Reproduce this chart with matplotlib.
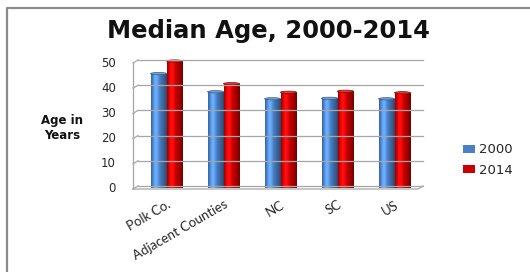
import numpy as np
import matplotlib
matplotlib.use("Agg")
import matplotlib.pyplot as plt
from matplotlib.lines import Line2D
from matplotlib.patches import Patch, Ellipse
from matplotlib.colors import to_rgb

categories = ["Polk Co.", "Adjacent Counties", "NC", "SC", "US"]
series_names = ["2000", "2014"]
age_2000 = [44.6, 37.4, 34.6, 34.8, 34.6]
age_2014 = [49.6, 40.6, 37.2, 37.6, 37.0]
yticks = [0, 10, 20, 30, 40, 50]

W, H = 530, 272
fig = plt.figure(figsize=(W / 100, H / 100), dpi=100)

# back wall in pixel coords
x0, x1 = 138, 423
y0, y1 = 186, 60
ax = fig.add_axes([x0 / W, 1 - y0 / H, (x1 - x0) / W, (y0 - y1) / H])
ax.set_xlim(-0.5, len(categories) - 0.5)
ax.set_ylim(0, 50)
for s in ax.spines.values():
    s.set_visible(False)

dx, dy = -5, 3   # offset from back wall to front edge (pixels)
grid_c = "#a6a6a6"


def fx(px):
    return px / W


def fy(py):
    return 1 - py / H


# gridlines on back wall + diagonals on side wall
for t in yticks:
    py = y0 - (y0 - y1) * t / 50
    fig.add_artist(Line2D([fx(x0), fx(x1)], [fy(py), fy(py)], color=grid_c, lw=0.9))
    fig.add_artist(Line2D([fx(x0 + dx), fx(x0)], [fy(py + dy), fy(py)], color=grid_c, lw=0.9))
    fig.text(fx(116), fy(py + dy), str(t), ha="right", va="center",
             fontsize=8.5, color="#262626")
# side wall front edge and floor
fig.add_artist(Line2D([fx(x0 + dx)] * 2, [fy(y0 + dy), fy(y1 + dy)], color=grid_c, lw=0.9))
fig.add_artist(Line2D([fx(x0 + dx), fx(x1 + dx), fx(x1)],
                      [fy(y0 + dy), fy(y0 + dy), fy(y0)], color=grid_c, lw=0.9))

ax.set_yticks([])
ax.set_xticks(range(len(categories)))
ax.set_xticklabels(categories, rotation=30, ha="right", rotation_mode="anchor",
                   fontsize=9.5, family="Lato", color="#262626")
ax.tick_params(axis="x", length=0, pad=9)


def shade(base, n=40):
    c = np.array(to_rgb(base))
    xs = np.linspace(0, 1, n)
    # light band left of centre, dark towards the edges
    f = 1.0 + 0.3 * np.exp(-((xs - 0.3) / 0.2) ** 2) - 0.45 * xs ** 3 - 0.25 * (1 - xs) ** 6
    img = np.clip(c[None, :] * f[:, None] + 0.06 * np.exp(-((xs - 0.3) / 0.15) ** 2)[:, None], 0, 1)
    return img[None, :, :]


colors = ["#4a80c4", "#cc0000"]
bw = 0.28
for i, (a, b) in enumerate(zip(age_2000, age_2014)):
    for j, (v, c) in enumerate([(a, colors[0]), (b, colors[1])]):
        left = i - bw + j * bw
        ax.imshow(shade(c), extent=(left, left + bw, -0.6, v), aspect="auto",
                  interpolation="bilinear", zorder=3, clip_on=False)
        top = np.array(to_rgb(c)) * 0.75 + 0.25
        ax.add_patch(Ellipse((left + bw / 2, v), bw, 0.9, facecolor=np.clip(top, 0, 1),
                             edgecolor=np.array(to_rgb(c)) * 0.7, lw=0.5,
                             zorder=4, clip_on=False))
ax.set_xlim(-0.5, len(categories) - 0.5)
ax.set_ylim(0, 50)

fig.text(fx(268), fy(31), "Median Age, 2000-2014", ha="center", va="center",
         fontsize=17.5, fontweight="bold", color="#111111")
fig.text(fx(62), fy(128), "Age in\nYears", ha="center", va="center",
         fontsize=8.5, fontweight="bold", color="#111111", linespacing=1.25)

handles = [Patch(facecolor=c, edgecolor="none") for c in colors]
fig.legend(handles, series_names, loc="center left", bbox_to_anchor=(fx(451), fy(160)),
           frameon=False, fontsize=9.5, handlelength=0.9, handleheight=0.55,
           handletextpad=0.3, labelspacing=0.55, labelcolor="#262626")

# outer frame
fig.add_artist(Line2D([fx(6.5), fx(6.5), 1], [0, fy(8), fy(8)], color="#8c8c8c", lw=1.6))

fig.savefig("out.png", dpi=100)
